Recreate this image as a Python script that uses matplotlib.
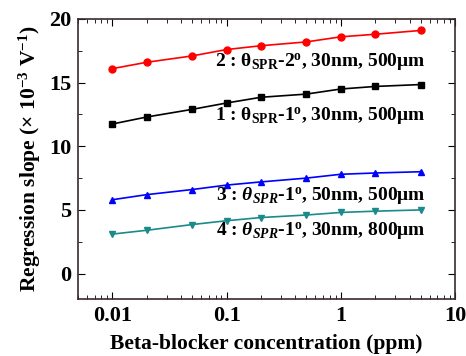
import matplotlib
matplotlib.use('Agg')
import matplotlib.pyplot as plt
from matplotlib.ticker import MultipleLocator, LogLocator, NullFormatter

plt.rcParams['font.family'] = 'Liberation Serif'
plt.rcParams['font.weight'] = 'bold'
plt.rcParams['mathtext.fontset'] = 'custom'
plt.rcParams['mathtext.rm'] = 'Liberation Serif'
plt.rcParams['mathtext.bf'] = 'Liberation Serif:bold'
plt.rcParams['mathtext.it'] = 'Liberation Serif:italic:bold'
plt.rcParams['mathtext.bfit'] = 'Liberation Serif:italic:bold'

# concentration (ppm)
conc = [0.01, 0.02, 0.05, 0.1, 0.2, 0.5, 1, 2, 5]
# regression slopes (x 10^-3 V^-1)
slope_1 = [11.75, 12.3, 12.9, 13.4, 13.85, 14.1, 14.5, 14.7, 14.85]
slope_2 = [16.1, 16.6, 17.1, 17.6, 17.9, 18.2, 18.6, 18.8, 19.1]
slope_3 = [5.8, 6.2, 6.6, 6.95, 7.2, 7.5, 7.8, 7.9, 8.0]
slope_4 = [3.1, 3.4, 3.85, 4.15, 4.4, 4.6, 4.8, 4.9, 5.0]

labels = [
    r'1 : $\mathbf{\theta}_{\mathbf{SPR}}$-1$^{\mathbf{o}}$, 30nm, 500$\mathbf{\mu}$m',
    r'2 : $\mathbf{\theta}_{\mathbf{SPR}}$-2$^{\mathbf{o}}$, 30nm, 500$\mathbf{\mu}$m',
    r'3 : $\mathbfit{\theta}_{\mathbfit{SPR}}$-1$^{\mathbf{o}}$, 50nm, 500$\mathbf{\mu}$m',
    r'4 : $\mathbfit{\theta}_{\mathbfit{SPR}}$-1$^{\mathbf{o}}$, 30nm, 800$\mathbf{\mu}$m',
]
label_y = [12.4, 16.6, 6.1, 3.3]

fig = plt.figure(figsize=(4.66, 3.56), dpi=100)
ax = fig.add_axes([78 / 466, 1 - 299 / 356, 377 / 466, 280 / 356])

ax.plot(conc, slope_2, color='red', marker='o', markersize=5, lw=1.2)
ax.plot(conc, slope_1, color='black', marker='s', markersize=4.5, lw=1.2)
ax.plot(conc, slope_3, color='blue', marker='^', markersize=5, lw=1.2)
ax.plot(conc, slope_4, color='#1a8a8a', marker='v', markersize=5, lw=1.2)

for txt, yy in zip(labels, label_y):
    ax.text(5.5, yy, txt, ha='right', va='center', fontsize=14, fontweight='bold')

ax.set_xscale('log')
ax.set_xlim(0.005, 10)
ax.set_ylim(-2, 20)
ax.yaxis.set_major_locator(MultipleLocator(5))
ax.yaxis.set_minor_locator(MultipleLocator(2.5))
ax.xaxis.set_major_locator(LogLocator(base=10))
ax.xaxis.set_minor_locator(LogLocator(base=10, subs=range(2, 10)))
ax.xaxis.set_minor_formatter(NullFormatter())
ax.set_xticks([0.01, 0.1, 1, 10])
ax.set_xticklabels(['0.01', '0.1', '1', '10'])

ax.tick_params(which='both', direction='in', top=True, right=True, labelsize=16)
ax.tick_params(which='major', length=5, pad=5)
ax.tick_params(which='minor', length=3)
for s in ax.spines.values():
    s.set_color('#3a2a2a')
    s.set_linewidth(1.2)

ax.set_xlabel('Beta-blocker concentration (ppm)', fontsize=15.5, fontweight='bold', labelpad=6)
ax.set_ylabel(r'Regression slope ($\times$ 10$^{\mathbf{-3}}$ V$^{\mathbf{-1}}$)', fontsize=15.5,
              fontweight='bold', labelpad=4)

fig.savefig('out.png', dpi=100)
